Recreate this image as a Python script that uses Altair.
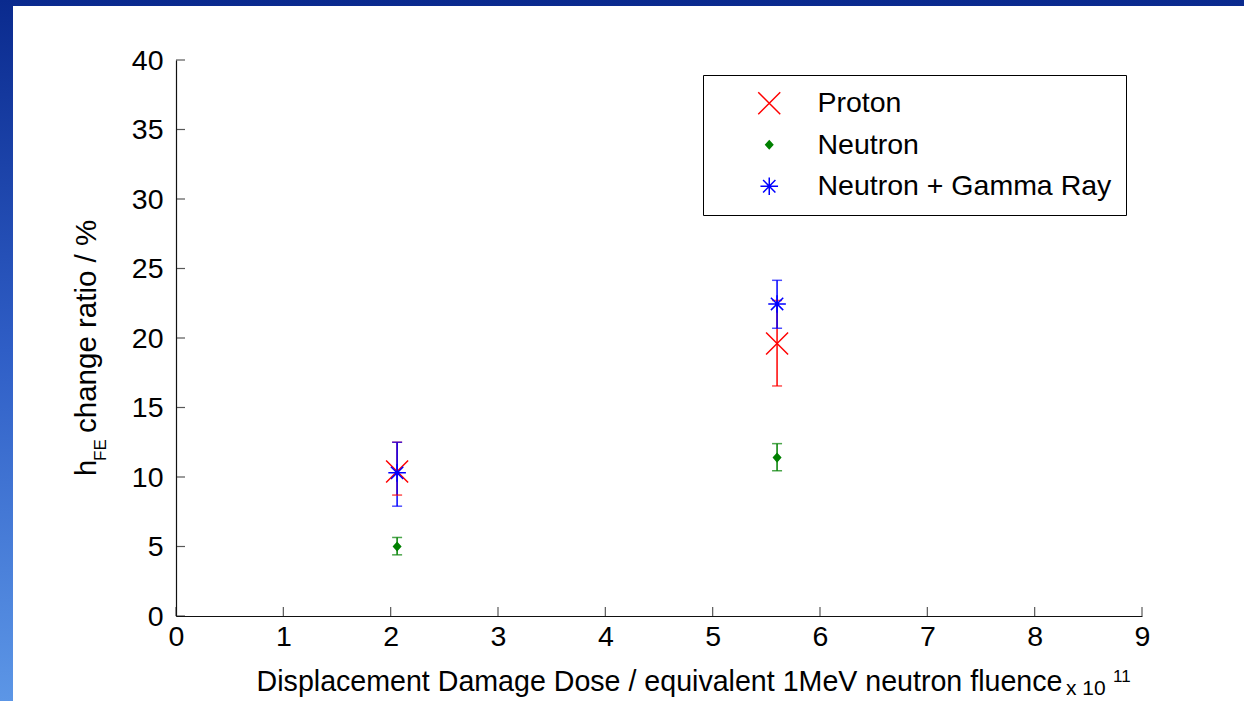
import altair as alt
import pandas as pd

# ---------------- data ----------------
series_names = ["Proton", "Neutron", "Neutron + Gamma Ray"]
series_colors = ["#ff0000", "#008000", "#0000ff"]

fluence = [2.06, 5.6]            # x 10^11 (1 MeV neutron equivalent)
proton_y = [10.4, 19.6]
proton_lo = [8.7, 16.55]
proton_hi = [12.5, 22.7]
neutron_y = [5.0, 11.4]
neutron_lo = [4.4, 10.45]
neutron_hi = [5.65, 12.4]
gamma_y = [10.3, 22.45]
gamma_lo = [7.9, 20.7]
gamma_hi = [12.5, 24.15]

x_ticks = list(range(0, 10))
y_ticks = list(range(0, 41, 5))

FONT = "Liberation Sans"
W, H = 966, 556
PAD_L, PAD_T, PAD_R, PAD_B = 176, 60, 102, 85

rows = []
for name, col, ys, los, his in [
    (series_names[0], series_colors[0], proton_y, proton_lo, proton_hi),
    (series_names[1], series_colors[1], neutron_y, neutron_lo, neutron_hi),
    (series_names[2], series_colors[2], gamma_y, gamma_lo, gamma_hi),
]:
    for x, y, lo, hi in zip(fluence, ys, los, his):
        rows.append({"series": name, "col": col, "x": x, "y": y, "lo": lo, "hi": hi})
df = pd.DataFrame(rows)

xscale = alt.Scale(domain=[0, 9], nice=False, zero=False)
yscale = alt.Scale(domain=[0, 40], nice=False, zero=False)

# ---------------- slide frame ----------------
frame = alt.Chart(alt.Data(values=[{}])).mark_rect(
    color=alt.Gradient(
        gradient="linear", x1=0, x2=0, y1=0, y2=1,
        stops=[alt.GradientStop(offset=0, color="#0a2a8e"),
               alt.GradientStop(offset=0.5, color="#2f5ec6"),
               alt.GradientStop(offset=1, color="#5c96e6")]),
).encode(x=alt.value(-PAD_L), x2=alt.value(W + PAD_R),
         y=alt.value(-PAD_T), y2=alt.value(H + PAD_B))

paper = alt.Chart(alt.Data(values=[{}])).mark_rect(color="white").encode(
    x=alt.value(13 - PAD_L), x2=alt.value(W + PAD_R),
    y=alt.value(6 - PAD_T), y2=alt.value(H + PAD_B))

# ---------------- axes ----------------
axis_common = dict(
    labelFont=FONT, labelFontSize=28.5, labelColor="black",
    titleFont=FONT, titleFontSize=28.6, titleColor="black", titleFontWeight="normal",
    domainColor="#111111", domainWidth=1.2, ticks=False, tickSize=0,
    grid=False, labelOverlap=False, labelFlush=False, zindex=2,
)

base = alt.Chart(df)

axes_layer = base.mark_point(opacity=0).encode(
    x=alt.X("x:Q", scale=xscale,
            axis=alt.Axis(values=x_ticks, format="d", labelPadding=6,
                          title="Displacement Damage Dose / equivalent 1MeV neutron fluence",
                          titlePadding=17, **axis_common)),
    y=alt.Y("y:Q", scale=yscale,
            axis=alt.Axis(values=y_ticks, format="d", labelPadding=13, title=None,
                          **axis_common)),
)

xt = alt.Chart(pd.DataFrame({"t": x_ticks, "z": [0] * len(x_ticks)})).mark_tick(
    orient="vertical", size=9, thickness=1.2, color="#111111", yOffset=-4.5
).encode(x=alt.X("t:Q", scale=xscale), y=alt.Y("z:Q", scale=yscale))

yt = alt.Chart(pd.DataFrame({"t": y_ticks, "z": [0] * len(y_ticks)})).mark_tick(
    orient="horizontal", size=9, thickness=1.2, color="#111111", xOffset=4.5
).encode(y=alt.Y("t:Q", scale=yscale), x=alt.X("z:Q", scale=xscale))

# ---------------- error bars ----------------
bars = base.mark_rule(strokeWidth=1.5).encode(
    x=alt.X("x:Q", scale=xscale), y=alt.Y("lo:Q", scale=yscale), y2="hi:Q",
    color=alt.Color("col:N", scale=None))
cap_lo = base.mark_tick(orient="horizontal", size=10, thickness=1.5).encode(
    x=alt.X("x:Q", scale=xscale), y=alt.Y("lo:Q", scale=yscale),
    color=alt.Color("col:N", scale=None))
cap_hi = base.mark_tick(orient="horizontal", size=10, thickness=1.5).encode(
    x=alt.X("x:Q", scale=xscale), y=alt.Y("hi:Q", scale=yscale),
    color=alt.Color("col:N", scale=None))

# ---------------- markers + legend ----------------
shape_x = "M-1,-1L1,1M1,-1L-1,1"
shape_star = ("M-0.8,0L0.8,0M0,-0.8L0,0.8"
              "M-0.56,-0.56L0.56,0.56M-0.56,0.56L0.56,-0.56")
shape_dot = "M-0.32,0L0,-0.36L0.32,0L0,0.36Z"

legend = alt.Legend(
    title=None, orient="none", legendX=527, legendY=15,
    strokeColor="black", fillColor="white", padding=14,
    symbolOffset=38, labelOffset=34, labelFont=FONT, labelFontSize=28.5,
    labelColor="black", labelLimit=500, rowPadding=12.5, symbolStrokeWidth=1.5,
    symbolSize=484,
)
dom = series_names
points = base.mark_point(strokeWidth=1.5, opacity=1, size=484).encode(
    x=alt.X("x:Q", scale=xscale), y=alt.Y("y:Q", scale=yscale),
    stroke=alt.Stroke("series:N", scale=alt.Scale(domain=dom, range=series_colors), legend=legend),
    fill=alt.Fill("series:N", scale=alt.Scale(domain=dom, range=["transparent", "#008000", "transparent"]), legend=legend),
    shape=alt.Shape("series:N", scale=alt.Scale(domain=dom, range=[shape_x, shape_dot, shape_star]), legend=legend),
)

# ---------------- annotations ----------------
ylab_h = alt.Chart(alt.Data(values=[{}])).mark_text(
    text="h", font=FONT, fontSize=29, angle=270, align="left", baseline="alphabetic", color="black"
).encode(x=alt.value(96 - PAD_L), y=alt.value(476 - PAD_T))
ylab_fe = alt.Chart(alt.Data(values=[{}])).mark_text(
    text="FE", font=FONT, fontSize=17, angle=270, align="left", baseline="alphabetic", color="black"
).encode(x=alt.value(106 - PAD_L), y=alt.value(461 - PAD_T))
ylab_rest = alt.Chart(alt.Data(values=[{}])).mark_text(
    text="change ratio / %", font=FONT, fontSize=29.5, angle=270, align="left", baseline="alphabetic", color="black"
).encode(x=alt.value(96 - PAD_L), y=alt.value(433 - PAD_T))

exp_base = alt.Chart(alt.Data(values=[{}])).mark_text(
    text="x 10", font=FONT, fontSize=21, align="left", baseline="alphabetic", color="black"
).encode(x=alt.value(1066 - PAD_L), y=alt.value(695 - PAD_T))
exp_sup = alt.Chart(alt.Data(values=[{}])).mark_text(
    text="11", font=FONT, fontSize=17, align="left", baseline="alphabetic", color="black"
).encode(x=alt.value(1113 - PAD_L), y=alt.value(682 - PAD_T))

chart = alt.layer(
    frame, paper, axes_layer, xt, yt, bars, cap_lo, cap_hi, points,
    ylab_h, ylab_fe, ylab_rest, exp_base, exp_sup,
).properties(
    width=W, height=H,
    autosize=alt.AutoSizeParams(type="none"),
    padding={"left": PAD_L, "top": PAD_T, "right": PAD_R, "bottom": PAD_B},
    background="white",
).configure_view(stroke=None)

chart.save("out.html", embed_options={"renderer": "svg", "actions": False})
